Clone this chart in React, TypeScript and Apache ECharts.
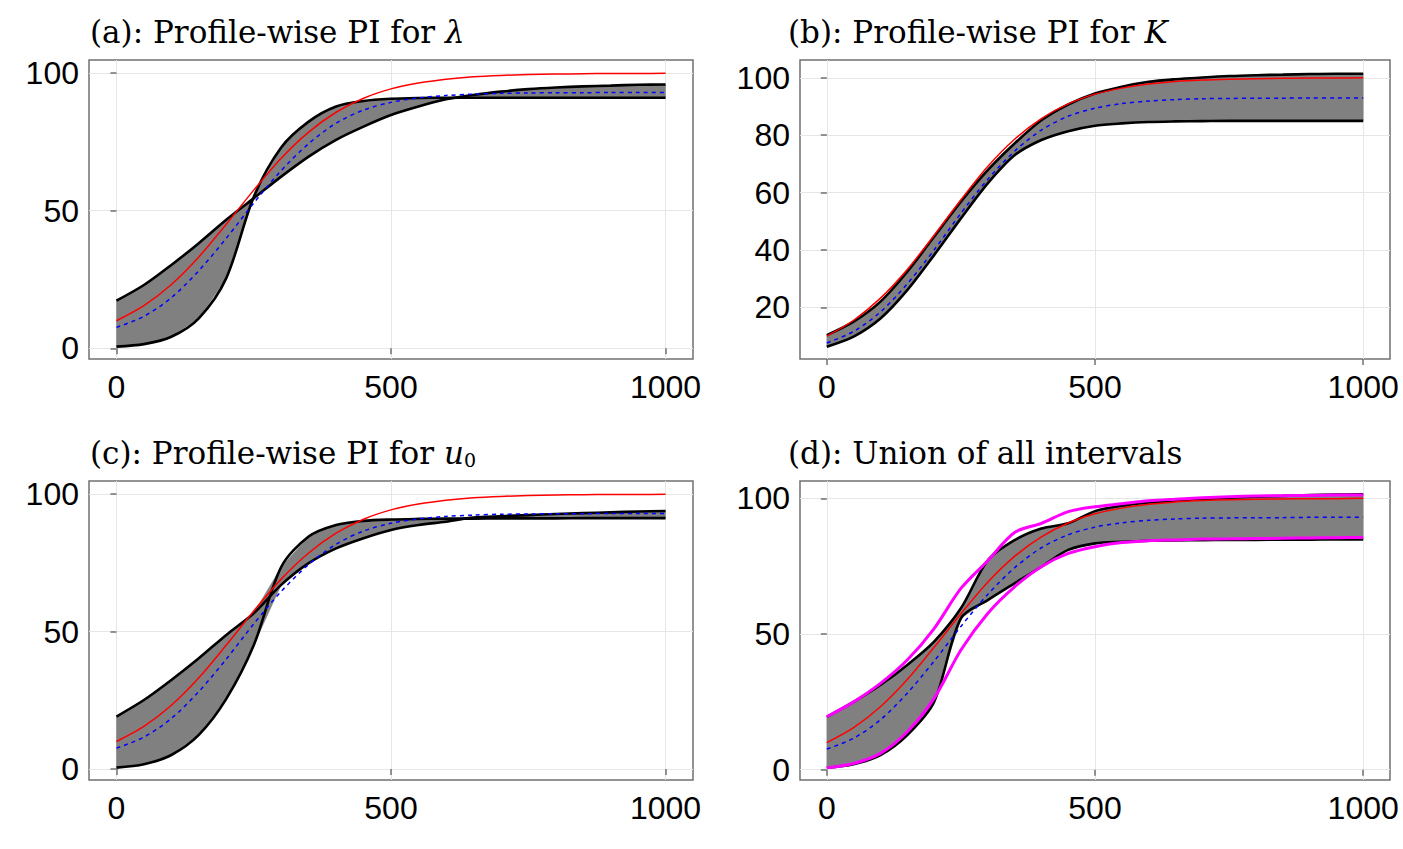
import React, { useEffect, useRef } from "react";
import * as echarts from "echarts";

const times = [0, 50, 100, 150, 200, 250, 300, 350, 400, 450, 500, 550, 600, 650, 700, 750, 800, 850, 900, 950, 1000];

const trueCurve = [10, 15.5, 23.2, 33.2, 45.1, 57.5, 69.1, 78.6, 85.8, 90.9, 94.3, 96.4, 97.8, 98.7, 99.2, 99.5, 99.7, 99.8, 99.9, 99.9, 100];
const mleCurve = [7.6, 11.6, 18.4, 28.2, 40.0, 52.8, 64.6, 74.4, 81.8, 86.6, 89.4, 91.0, 91.9, 92.4, 92.7, 92.8, 92.9, 92.9, 93.0, 93.0, 93.0];

// (a) lambda
const aShallow = [17.3, 23, 30.3, 38.2, 46.7, 54.5, 62.4, 69.7, 75.8, 80.6, 84.8, 87.9, 90.5, 92.1, 93.3, 94.2, 94.8, 95.2, 95.5, 95.8, 95.9];
const aSteep = [0.6, 1.5, 4.2, 10.9, 25.5, 55, 73, 82.4, 87.9, 89.9, 90.7, 91, 91.1, 91.1, 91.1, 91.1, 91.1, 91.1, 91.1, 91.1, 91.1];
// (b) K
const bUpper = [10.3, 15, 22, 32.4, 44.6, 56.8, 67.8, 77.1, 85.2, 90.7, 94.5, 96.9, 98.6, 99.5, 100.1, 100.6, 100.9, 101.1, 101.3, 101.4, 101.4];
const bLower = [6.3, 9.8, 16.1, 26, 38.2, 51, 63.2, 73, 78.3, 81.4, 83.3, 84.1, 84.6, 84.8, 84.9, 85, 85, 85, 85, 85, 85];
// (c) u0
const cShallow = [19.1, 25.1, 32.4, 40.3, 48.8, 56.7, 67, 74.9, 80.3, 84, 87, 88.8, 90, 91.5, 92, 92.4, 92.8, 93.1, 93.4, 93.7, 93.9];
const cSteep = [0.5, 1.7, 5.1, 12.4, 25.5, 45, 73.5, 84.6, 88.8, 90.3, 90.8, 91, 91.1, 91.1, 91.2, 91.2, 91.2, 91.3, 91.3, 91.3, 91.3];
// (d) union
const dUpper = [19.5, 25, 31.2, 38.6, 47.2, 59.5, 77.1, 84.6, 88.9, 90.8, 95.3, 97.3, 98.5, 99.2, 99.8, 100.2, 100.6, 100.9, 101.2, 101.4, 101.5];
const dLower = [0.7, 2, 5.4, 12.8, 25, 55.8, 62.5, 68.7, 74.8, 81, 83.4, 84, 84.4, 84.5, 84.6, 84.7, 84.7, 84.8, 84.8, 84.9, 84.9];
const dFullUpper = [19.5, 25, 31.8, 40.4, 52, 66.8, 77, 87.4, 90.8, 95.1, 96.9, 98, 99.1, 99.7, 100.2, 100.6, 100.9, 101, 101.1, 101.2, 101.2];
const dFullLower = [0.7, 2.3, 6, 14, 26.3, 44.1, 57.6, 67.4, 74.8, 79.7, 82.2, 83.7, 84.4, 84.7, 85, 85.1, 85.2, 85.3, 85.4, 85.5, 85.6];

const xTicks = [0, 500, 1000];

const pts = (ys: number[]) => times.map((t, i) => [t, ys[i]]);

export default function App() {
  const ref = useRef<HTMLDivElement>(null);
  useEffect(() => {
    const chart = echarts.init(ref.current!, null, { renderer: "svg" });
    const grids = [
      { left: 89, top: 60, width: 604, height: 299, ymin: -3.9, ymax: 104.8, yt: [0, 50, 100] },
      { left: 800, top: 60, width: 590, height: 299, ymin: 2.0, ymax: 106.2, yt: [20, 40, 60, 80, 100] },
      { left: 89, top: 481, width: 604, height: 299, ymin: -4.0, ymax: 104.8, yt: [0, 50, 100] },
      { left: 800, top: 481, width: 590, height: 299, ymin: -3.8, ymax: 106.4, yt: [0, 50, 100] },
    ];
    const gridOpt = grids.map((g) => ({
      left: g.left, top: g.top, width: g.width, height: g.height,
      show: true, borderColor: "#707070", borderWidth: 1.5, backgroundColor: "transparent",
    }));
    const labelStyle = { color: "#000", fontSize: 32, fontFamily: "Liberation Sans, Arial, sans-serif" };
    const xAxis = grids.map((g, i) => ({
      type: "value", gridIndex: i, min: -50, max: 1050,
      axisLine: { show: false },
      axisTick: { show: true, customValues: xTicks, length: 6, lineStyle: { color: "#707070", width: 1.5 } },
      axisLabel: { customValues: xTicks, margin: 12, formatter: (v: number) => String(v), ...labelStyle },
      splitLine: { show: true, lineStyle: { color: "#e6e6e6", width: 1 } },
    }));
    const yAxis = grids.map((g, i) => ({
      type: "value", gridIndex: i, min: g.ymin, max: g.ymax,
      axisLine: { show: false },
      axisTick: { show: true, customValues: g.yt, length: 6, lineStyle: { color: "#707070", width: 1.5 } },
      axisLabel: { customValues: g.yt, margin: 10, formatter: (v: number) => String(v), ...labelStyle },
      splitLine: { show: true, lineStyle: { color: "#e6e6e6", width: 1 } },
    }));
    const series: any[] = [];
    const sm = 0.3;
    const band = (i: number, up: number[], lo: number[]) => {
      const hi = up.map((v, k) => Math.max(v, lo[k]));
      const low = up.map((v, k) => Math.min(v, lo[k]));
      series.push({
        type: "custom", xAxisIndex: i, yAxisIndex: i, silent: true,
        data: [[0, 0]],
        renderItem: (_p: any, api: any) => {
          const top = times.map((t, k) => api.coord([t, hi[k]]));
          const bot = times.map((t, k) => api.coord([t, low[k]])).reverse();
          return {
            type: "polygon",
            shape: { points: top.concat(bot), smooth: 0 },
            style: { fill: "#808080", stroke: "#808080", lineWidth: 0.5 },
          };
        },
      });
    };
    const line = (i: number, ys: number[], color: string, width: number, dashed = false) => {
      series.push({
        type: "line", xAxisIndex: i, yAxisIndex: i, symbol: "none", smooth: sm,
        lineStyle: { color, width, type: dashed ? [4, 4] : "solid" }, data: pts(ys), silent: true,
      });
    };
    const panels: [number[], number[]][] = [[aShallow, aSteep], [bUpper, bLower], [cShallow, cSteep], [dUpper, dLower]];
    panels.forEach(([u, l], i) => {
      band(i, u, l);
      line(i, u, "#000", 2.6);
      line(i, l, "#000", 2.6);
      if (i === 3) {
        line(i, dFullUpper, "#ff00ff", 3);
        line(i, dFullLower, "#ff00ff", 3);
      }
      line(i, trueCurve, "#ff0000", 1.5);
      line(i, mleCurve, "#0000ff", 1.5, true);
    });
    const serif = "DejaVu Serif, serif";
    const titleText = (x: number, y: number, text: string) => ({
      type: "text", left: x, top: y,
      style: {
        text, fill: "#000", font: `31px ${serif}`,
        rich: {
          n: { fontSize: 31, fontFamily: serif, fill: "#000" },
          i: { fontSize: 31, fontFamily: serif, fontStyle: "italic", fill: "#000" },
          s: { fontSize: 19, fontFamily: serif, fill: "#000", verticalAlign: "bottom", padding: [14, 0, 0, 0] },
        },
      },
    });
    chart.setOption({
      animation: false,
      grid: gridOpt,
      xAxis, yAxis, series,
      graphic: [
        titleText(90, 16, "{n|(a): Profile-wise PI for }{i|λ}"),
        titleText(788, 16, "{n|(b): Profile-wise PI for }{i|K}"),
        titleText(90, 437, "{n|(c): Profile-wise PI for }{i|u}{s|0}"),
        titleText(788, 437, "{n|(d): Union of all intervals}"),
      ],
    });
    return () => chart.dispose();
  }, []);
  return <div ref={ref} style={{ position: "absolute", left: 0, top: 0, width: 1403, height: 849 }} />;
}
